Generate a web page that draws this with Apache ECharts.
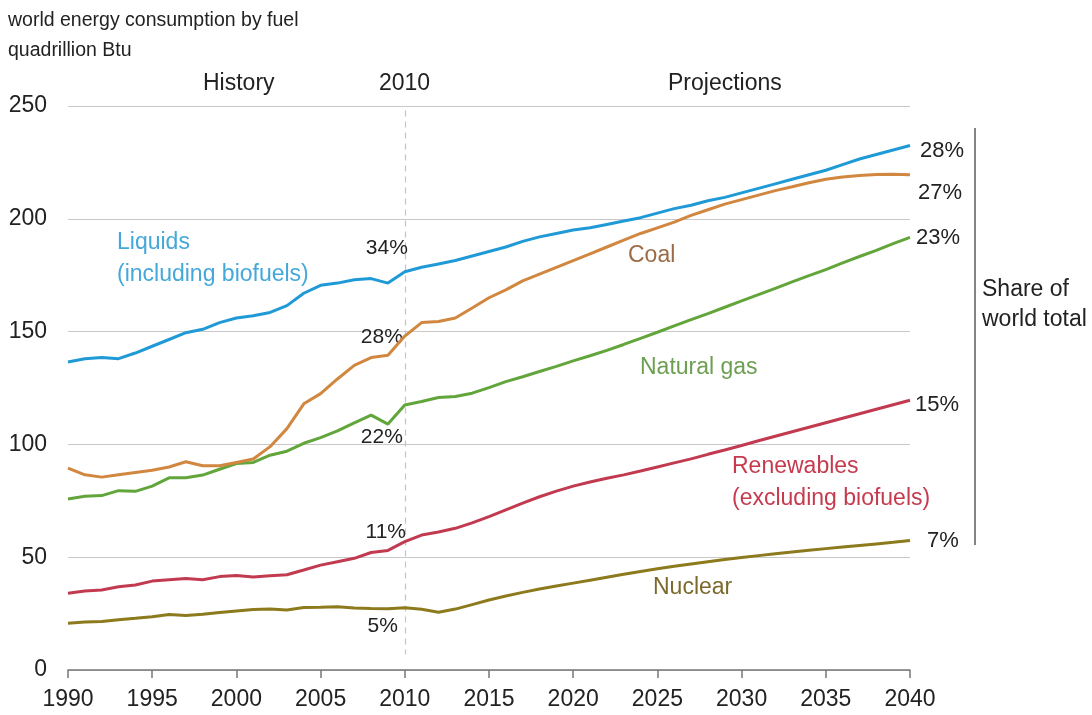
<!DOCTYPE html>
<html>
<head>
<meta charset="utf-8">
<script src="https://cdn.jsdelivr.net/npm/echarts@6/dist/echarts.min.js"></script>
<style>
  html, body { margin: 0; padding: 0; background: #fff; }
  #chart { width: 1092px; height: 715px; }
</style>
</head>
<body>
<div id="chart"></div>
<script>
// years 1990..2040, one value per year (quadrillion Btu)
var firstYear = 1990;
var liquids = [136.5, 138, 138.5, 138, 140.5, 143.5, 146.5, 149.5, 151, 154,
  156, 157, 158.5, 161.5, 167, 170.5, 171.5, 173, 173.5, 171.5,
  176.5, 178.5, 180, 181.5, 183.5, 185.5, 187.5, 190, 192, 193.5,
  195, 196, 197.5, 199, 200.5, 202.5, 204.5, 206, 208, 209.5,
  211.5, 213.5, 215.5, 217.5, 219.5, 221.5, 224, 226.5, 228.5, 230.5, 232.5];
var coal = [89.5, 86.5, 85.5, 86.5, 87.5, 88.5, 90, 92.3, 90.5, 90.5,
  92, 93.5, 99, 107, 118, 122.5, 129, 135, 138.5, 139.5,
  148, 154, 154.5, 156, 160.5, 165, 168.5, 172.5, 175.5, 178.5,
  181.5, 184.5, 187.5, 190.5, 193.5, 196, 198.5, 201.5, 204, 206.5,
  208.5, 210.5, 212.5, 214.2, 216, 217.5, 218.5, 219.2, 219.6, 219.7, 219.5];
var naturalGas = [75.8, 77, 77.3, 79.5, 79.2, 81.5, 85.2, 85.2, 86.4, 89,
  91.5, 92, 95.2, 97, 100.5, 103, 106, 109.5, 113, 109,
  117.5, 119, 120.8, 121.2, 122.7, 125.2, 127.8, 130, 132.3, 134.6,
  137, 139.3, 141.7, 144.3, 147, 149.7, 152.5, 155.3, 158, 160.8,
  163.6, 166.4, 169.2, 172, 174.8, 177.5, 180.5, 183.3, 186, 189, 191.8];
var renewables = [34, 35, 35.5, 36.9, 37.7, 39.4, 40, 40.6, 40, 41.4,
  41.9, 41.2, 41.8, 42.2, 44.3, 46.5, 48, 49.5, 52.1, 53,
  56.9, 59.8, 61.2, 62.8, 65.2, 68, 71, 74, 76.8, 79.3,
  81.5, 83.3, 85, 86.5, 88.2, 90, 91.8, 93.6, 95.6, 97.5,
  99.5, 101.6, 103.6, 105.6, 107.6, 109.6, 111.6, 113.6, 115.6, 117.6, 119.6];
var nuclear = [20.7, 21.3, 21.5, 22.3, 22.9, 23.6, 24.6, 24.2, 24.7, 25.5,
  26.2, 26.8, 27, 26.6, 27.7, 27.8, 28, 27.5, 27.3, 27.2,
  27.6, 26.9, 25.6, 27, 29, 31, 32.8, 34.4, 35.9, 37.2,
  38.5, 39.8, 41.1, 42.4, 43.7, 44.9, 46, 47, 48, 49,
  49.9, 50.7, 51.5, 52.3, 53.1, 53.8, 54.5, 55.2, 55.9, 56.6, 57.4];

var seriesNames = ['Liquids', 'Coal', 'Natural gas', 'Renewables', 'Nuclear'];
var share2010 = ['34%', '28%', '22%', '11%', '5%'];
var share2040 = ['28%', '27%', '23%', '15%', '7%'];
var yTicks = [0, 50, 100, 150, 200, 250];
var xTicks = [1990, 1995, 2000, 2005, 2010, 2015, 2020, 2025, 2030, 2035, 2040];
var splitYear = 2010;

var colors = ['#1f9ad6', '#d1873f', '#62a53b', '#c23a50', '#8c7a1c'];
var textColors = ['#45a8da', '#9b6b47', '#6d9f52', '#c63a4e', '#7b6a2c'];
var fontFam = '"Liberation Sans", Arial, sans-serif';

var allData = [liquids, coal, naturalGas, renewables, nuclear];
// label nudges (px) around 2010 point and at line end
var midOffsets = [[-18, -24], [-23, 1], [-23, 32], [-19, -9], [-22, 18]];
var endOffsets = [[6, 5], [4, 18], [2, 1], [1, 5], [13, 0]];

function pairs(arr) {
  return arr.map(function (v, i) { return [firstYear + i, v]; });
}

var series = allData.map(function (arr, k) {
  var s = {
    name: seriesNames[k],
    type: 'line',
    data: pairs(arr),
    showSymbol: false,
    animation: false,
    lineStyle: { color: colors[k], width: 3 },
    itemStyle: { color: colors[k] },
    z: 10 - k,
    endLabel: {
      show: true,
      formatter: share2040[k],
      color: '#222',
      fontSize: 22,
      fontFamily: fontFam,
      distance: 4,
      offset: endOffsets[k]
    },
    markPoint: {
      symbolSize: 0,
      silent: true,
      animation: false,
      data: [{
        coord: [splitYear, arr[splitYear - firstYear]],
        label: {
          show: true,
          formatter: share2010[k],
          color: '#222',
          fontSize: 21,
          fontFamily: fontFam,
          position: 'inside',
          offset: midOffsets[k]
        }
      }]
    }
  };
  if (k === 0) {
    s.markLine = {
      silent: true,
      symbol: 'none',
      animation: false,
      label: { show: false },
      lineStyle: { color: '#c4c4c4', type: [6, 5], width: 1.2 },
      data: [[{ coord: [splitYear, 248] }, { coord: [splitYear, 7] }]]
    };
  }
  return s;
});

function txt(x, y, str, color, size) {
  return {
    type: 'text', left: x, top: y, z: 100,
    style: { text: str, fill: color || '#222', font: (size || 23) + 'px ' + fontFam }
  };
}

var chart = echarts.init(document.getElementById('chart'), null, { renderer: 'canvas' });
var option = {
  backgroundColor: '#fff',
  grid: { left: 68, right: 182, top: 106, bottom: 45 },
  xAxis: {
    type: 'value',
    min: xTicks[0],
    max: xTicks[xTicks.length - 1],
    interval: 5,
    axisLine: { show: true, lineStyle: { color: '#777', width: 1.5 } },
    axisTick: { show: true, length: 8, lineStyle: { color: '#777', width: 1.5 } },
    splitLine: { show: false },
    axisLabel: {
      color: '#222', fontSize: 23, fontFamily: fontFam, margin: 18,
      formatter: function (v) { return String(v); }
    }
  },
  yAxis: {
    type: 'value',
    min: yTicks[0],
    max: yTicks[yTicks.length - 1],
    interval: 50,
    axisLine: { show: false },
    axisTick: { show: false },
    splitLine: { lineStyle: { color: '#c8c8c8', width: 1.2 } },
    axisLabel: { color: '#222', fontSize: 23, fontFamily: fontFam, margin: 21 }
  },
  graphic: [
    txt(8, 11, 'world energy consumption by fuel', '#222', 19.5),
    txt(8, 41, 'quadrillion Btu', '#222', 19.5),
    txt(203, 72, 'History'),
    txt(379, 72, '2010'),
    txt(668, 72, 'Projections'),
    txt(117, 231, 'Liquids', textColors[0]),
    txt(117, 263, '(including biofuels)', textColors[0]),
    txt(628, 244, 'Coal', textColors[1]),
    txt(640, 356, 'Natural gas', textColors[2]),
    txt(732, 455, 'Renewables', textColors[3]),
    txt(732, 487, '(excluding biofuels)', textColors[3]),
    txt(653, 576, 'Nuclear', textColors[4]),
    txt(982, 278, 'Share of'),
    txt(982, 308, 'world total'),
    {
      type: 'line', z: 100,
      shape: { x1: 975, y1: 128, x2: 975, y2: 545 },
      style: { stroke: '#333', lineWidth: 1.2 }
    }
  ],
  series: series
};
chart.setOption(option);
</script>
</body>
</html>
